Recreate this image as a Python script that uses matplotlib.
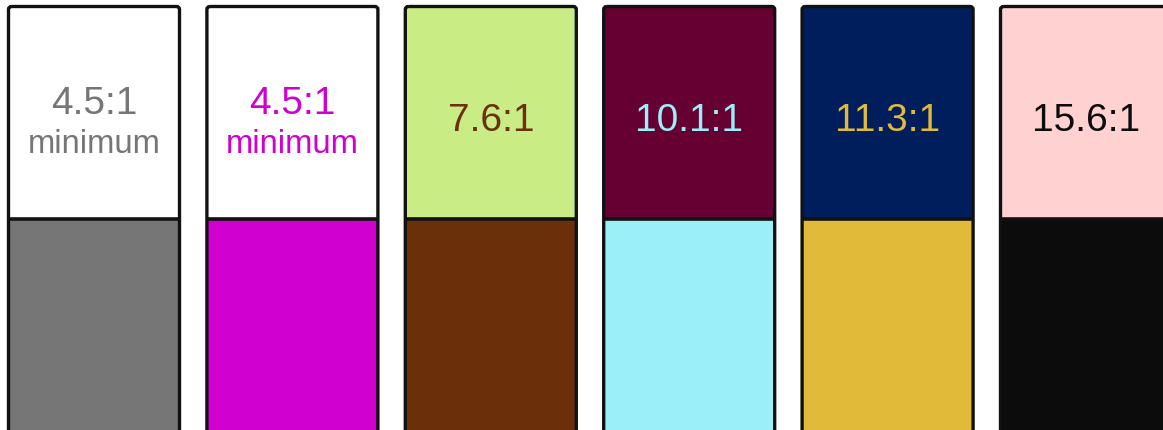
import matplotlib
matplotlib.use("Agg")
import matplotlib.pyplot as plt
from matplotlib.patches import FancyBboxPatch, Rectangle

ratios = ["4.5:1", "4.5:1", "7.6:1", "10.1:1", "11.3:1", "15.6:1"]
sublabels = ["minimum", "minimum", "", "", "", ""]
bg_colors = ["#FFFFFF", "#FFFFFF", "#C9EC84", "#660033", "#001E5C", "#FFD1D1"]
fg_colors = ["#767676", "#D000D0", "#6B300A", "#9AEFF8", "#E0BA38", "#0C0C0C"]

W, H = 1163, 431
fig = plt.figure(figsize=(W / 100, H / 100), dpi=100)
ax = fig.add_axes([0, 0, 1, 1])
ax.set_xlim(0, W)
ax.set_ylim(H, 0)
ax.axis("off")

x0, pitch, cw = 8.5, 198.4, 171
top, split, bottom = 7.5, 219.5, 470
plt.rcParams["font.family"] = ["Liberation Sans", "DejaVu Sans"]

for i, (r, s, bg, fg) in enumerate(zip(ratios, sublabels, bg_colors, fg_colors)):
    x = x0 + i * pitch
    ax.add_patch(Rectangle((x, top), cw, split - top, facecolor=bg, edgecolor="none", zorder=1))
    ax.add_patch(Rectangle((x, split), cw, bottom - split, facecolor=fg, edgecolor="none", zorder=1))
    ax.add_patch(FancyBboxPatch((x, top), cw, bottom - top,
                                boxstyle="round,pad=0,rounding_size=3",
                                facecolor="none", edgecolor="#111111", linewidth=2.4, zorder=3))
    ax.plot([x, x + cw], [split, split], color="#111111", linewidth=2.6, zorder=3,
            solid_capstyle="butt")
    cx = x + cw / 2
    if s:
        ax.text(cx, 104, r, color=fg, fontsize=28, ha="center", va="center", zorder=4)
        ax.text(cx, 144.5, s, color=fg, fontsize=23.6, ha="center", va="center", zorder=4)
    else:
        ax.text(cx, 121, r, color=fg, fontsize=28, ha="center", va="center", zorder=4)

fig.savefig("out.png", dpi=100, facecolor="white")
